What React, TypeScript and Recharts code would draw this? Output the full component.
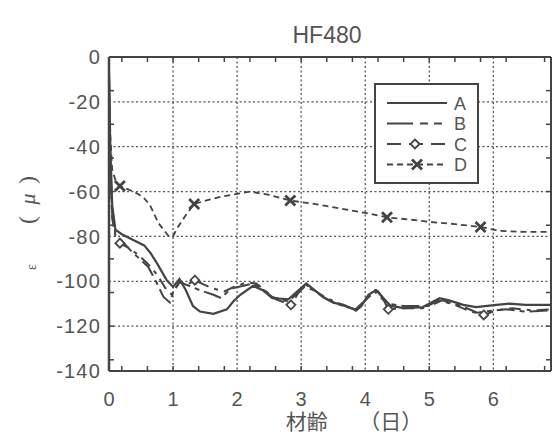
import React from "react";
import { LineChart, Line, XAxis, YAxis, CartesianGrid, Legend } from "recharts";

// axes
const xTicks = [0, 1, 2, 3, 4, 5, 6];
const yTicks = [-140, -120, -100, -80, -60, -40, -20, 0];
const xMinorTicks = Array.from({ length: 35 }, (_, i) => +(i * 0.2).toFixed(1));
const yMinorTicks = Array.from({ length: 29 }, (_, i) => -140 + i * 5);

// strain (μ) vs age (days)
const seriesA: [number, number][] = [
  [0, -8], [0.02, -40], [0.05, -66], [0.1, -77], [0.2, -79], [0.37, -81.5], [0.55, -84],
  [0.65, -87.5], [0.75, -92], [0.9, -99.5], [1.0, -102.5], [1.1, -99], [1.2, -104],
  [1.31, -111], [1.42, -113.5], [1.63, -114.5], [1.84, -112.5], [1.94, -109], [2.05, -106],
  [2.25, -102], [2.4, -104], [2.55, -107.5], [2.8, -108], [3.08, -101], [3.19, -103.5],
  [3.34, -107], [3.5, -109.5], [3.66, -110.5], [3.86, -113], [3.94, -111], [4.05, -106],
  [4.17, -104], [4.28, -107.5], [4.4, -111], [4.6, -112], [4.9, -111.5], [5.16, -107.5],
  [5.31, -108.5], [5.53, -110.5], [5.73, -111.5], [6.05, -110.5], [6.25, -110],
  [6.5, -110.5], [6.9, -110.5],
];
const seriesB: [number, number][] = [
  [0, -8], [0.02, -45], [0.05, -70], [0.1, -79], [0.2, -82], [0.33, -86], [0.44, -89],
  [0.61, -93.5], [0.75, -101], [0.85, -107], [0.95, -109.5], [1.0, -105], [1.1, -100.5],
  [1.25, -102], [1.42, -104], [1.63, -106], [1.75, -107.5], [1.84, -105], [1.94, -103],
  [2.1, -102], [2.25, -101], [2.4, -103.5], [2.55, -107], [2.8, -109], [3.05, -102.5],
  [3.2, -104], [3.4, -108], [3.6, -110.5], [3.85, -112.5], [4.05, -107], [4.2, -104.5],
  [4.35, -110], [4.6, -111], [5.0, -111], [5.2, -108.5], [5.5, -111], [5.75, -114],
  [6.0, -113], [6.2, -112.5], [6.5, -113.5], [6.9, -113],
];
const seriesC: [number, number][] = [
  [0, -8], [0.02, -50], [0.05, -72], [0.1, -80], [0.17, -83], [0.3, -85], [0.45, -88],
  [0.6, -92], [0.75, -97], [0.88, -103], [0.98, -106], [1.1, -100], [1.22, -101.5],
  [1.34, -99.5], [1.45, -101], [1.6, -103], [1.8, -104.5], [1.95, -102.5], [2.15, -100.5],
  [2.3, -101], [2.45, -104.5], [2.6, -108], [2.84, -110.5], [3.05, -101], [3.2, -104],
  [3.4, -107.5], [3.6, -110], [3.85, -113], [4.02, -108], [4.15, -104], [4.3, -109],
  [4.36, -112.5], [4.6, -112], [4.9, -112], [5.15, -108.5], [5.4, -110.5], [5.6, -113],
  [5.85, -115], [6.05, -113], [6.3, -112], [6.6, -113], [6.9, -112.5],
];
const seriesD: [number, number][] = [
  [0, -8], [0.02, -35], [0.05, -50], [0.1, -55], [0.17, -57.5], [0.3, -59], [0.45, -61],
  [0.55, -63], [0.64, -66], [0.77, -74], [0.92, -79.5], [1.0, -80], [1.05, -77],
  [1.2, -70.5], [1.33, -65.5], [1.58, -63.5], [1.8, -62], [2.0, -61], [2.2, -60],
  [2.5, -61.5], [2.83, -64], [3.2, -65.5], [3.6, -67.5], [4.0, -69.5], [4.34, -71.5],
  [4.7, -72.5], [5.0, -73.5], [5.4, -74.5], [5.8, -75.8], [6.1, -77.5], [6.5, -78],
  [6.9, -78],
];
const markersC = [0.17, 1.34, 2.84, 4.36, 5.85];
const markersD = [0.17, 1.33, 2.83, 4.34, 5.8];

const toRows = (s: [number, number][]) => s.map(([x, y]) => ({ x, y }));

const INK = "#444";
const TEXT = "#555";
const SANS = "'Liberation Sans', Arial, sans-serif";
const SERIF = "'Liberation Serif', serif";
const CJK = "'Noto Sans CJK JP', sans-serif";

const dash = { A: undefined, B: "18 5 5 5", C: "12 6 4 6", D: "6 4" } as Record<string, string | undefined>;

const diamond = (cx: number, cy: number, key?: string) => (
  <path key={key} d={`M${cx},${cy - 4.5}L${cx + 4.5},${cy}L${cx},${cy + 4.5}L${cx - 4.5},${cy}Z`}
    fill="#fff" stroke={INK} strokeWidth={1.8} />
);
const cross = (cx: number, cy: number, key?: string) => (
  <path key={key} d={`M${cx - 5},${cy - 5}L${cx + 5},${cy + 5}M${cx + 5},${cy - 5}L${cx - 5},${cy + 5}`}
    stroke={INK} strokeWidth={2.8} fill="none" />
);

const dotC = (p: any) =>
  markersC.includes(p.payload.x) ? diamond(p.cx, p.cy, `c${p.index}`) : <g key={`c${p.index}`} />;
const dotD = (p: any) =>
  markersD.includes(p.payload.x) ? cross(p.cx, p.cy, `d${p.index}`) : <g key={`d${p.index}`} />;

const noLabel = () => <g />;

const LegendBox = () => {
  const rows = ["A", "B", "C", "D"];
  return (
    <svg width={105} height={101}>
      <rect x={1} y={1} width={103} height={99} fill="#fff" stroke={INK} strokeWidth={2} />
      {rows.map((name, i) => {
        const y = 20 + i * 20.5;
        return (
          <g key={name}>
            <line x1={13} x2={73} y1={y} y2={y} stroke={INK} strokeWidth={2}
              strokeDasharray={name === "B" ? "26 7 8 6 8" : name === "C" ? "14 8 14 8" : dash[name]} />
            {name === "C" && diamond(41, y)}
            {name === "D" && cross(43, y)}
            <text x={80} y={y + 6.5} fontSize={18} fill={TEXT} fontFamily={SANS}>{name}</text>
          </g>
        );
      })}
    </svg>
  );
};

// rotated y title: ε （μ）
const YTitle = () => (
  <g transform="rotate(-90)" fill={TEXT}>
    <text x={-267} y={36} textAnchor="middle" fontSize={14} fontFamily={SERIF}>ε</text>
    <text x={-220} y={35} textAnchor="middle" fontSize={24} fontFamily={SERIF}>(</text>
    <text x={-199} y={35} textAnchor="middle" fontSize={22} fontFamily={SERIF} fontStyle="italic">μ</text>
    <text x={-180} y={35} textAnchor="middle" fontSize={24} fontFamily={SERIF}>)</text>
  </g>
);

export default function App() {
  return (
    <div style={{ position: "absolute", left: 0, top: 0, width: 552, height: 438, background: "#fff", overflow: "hidden" }}>
      <LineChart width={552} height={438} margin={{ top: 57, right: 1, left: 0, bottom: 0 }}>
        <CartesianGrid stroke={TEXT} strokeDasharray="2 2.5" strokeWidth={1.3} />
        {/* minor tick frames */}
        <XAxis xAxisId="xb" type="number" dataKey="x" domain={[0, 6.9]} allowDataOverflow
          orientation="bottom" mirror height={1} ticks={xMinorTicks} tick={noLabel}
          tickSize={5} axisLine={false} tickLine={{ stroke: INK, strokeWidth: 1.5 }} />
        <XAxis xAxisId="xt" type="number" dataKey="x" domain={[0, 6.9]} allowDataOverflow
          orientation="top" mirror height={1} ticks={xMinorTicks} tick={noLabel}
          tickSize={5} axisLine={{ stroke: INK, strokeWidth: 2 }} tickLine={{ stroke: INK, strokeWidth: 1.5 }}
          label={{ value: "HF480", position: "top", offset: 14, dx: -3, fontSize: 23, fill: TEXT, fontFamily: SANS }} />
        <YAxis yAxisId="yl" type="number" domain={[-140, 0]} allowDataOverflow orientation="left"
          mirror width={1} ticks={yMinorTicks} tick={noLabel} tickSize={5}
          axisLine={false} tickLine={{ stroke: INK, strokeWidth: 1.5 }} />
        <YAxis yAxisId="yr" type="number" domain={[-140, 0]} allowDataOverflow orientation="right"
          mirror width={1} ticks={yMinorTicks} tick={noLabel} tickSize={5}
          axisLine={{ stroke: INK, strokeWidth: 2 }} tickLine={{ stroke: INK, strokeWidth: 1.5 }} />
        {/* labelled axes */}
        <XAxis type="number" dataKey="x" domain={[0, 6.9]} allowDataOverflow ticks={xTicks}
          height={67} tickSize={0} tickMargin={21} tickLine={false}
          axisLine={{ stroke: INK, strokeWidth: 2 }}
          tick={{ fontSize: 20, fill: TEXT, fontFamily: SANS }}
          label={{ value: "材齢　　（日）", position: "insideBottom", offset: 9, dx: 24, fontSize: 21, fill: TEXT, fontFamily: CJK }} />
        <YAxis type="number" domain={[-140, 0]} allowDataOverflow ticks={yTicks} width={109}
          tickSize={0} tickMargin={8} tickLine={false}
          axisLine={{ stroke: INK, strokeWidth: 2.5 }}
          tick={{ fontSize: 20, fill: TEXT, fontFamily: SANS, letterSpacing: 1.2 }}
          label={<YTitle />} />
        <Line name="A" data={toRows(seriesA)} dataKey="y" type="linear" stroke={INK} strokeWidth={2.2}
          dot={false} activeDot={false} isAnimationActive={false} />
        <Line name="B" data={toRows(seriesB)} dataKey="y" type="linear" stroke={INK} strokeWidth={2}
          strokeDasharray={dash.B} dot={false} activeDot={false} isAnimationActive={false} />
        <Line name="C" data={toRows(seriesC)} dataKey="y" type="linear" stroke={INK} strokeWidth={2}
          strokeDasharray={dash.C} dot={dotC} activeDot={false} isAnimationActive={false} />
        <Line name="D" data={toRows(seriesD)} dataKey="y" type="linear" stroke={INK} strokeWidth={1.8}
          strokeDasharray={dash.D} dot={dotD} activeDot={false} isAnimationActive={false} />
        <Legend layout="vertical" align="center" verticalAlign="middle" content={<LegendBox />}
          wrapperStyle={{ left: 374, top: 83, width: 105, height: 101 }} />
      </LineChart>
    </div>
  );
}
